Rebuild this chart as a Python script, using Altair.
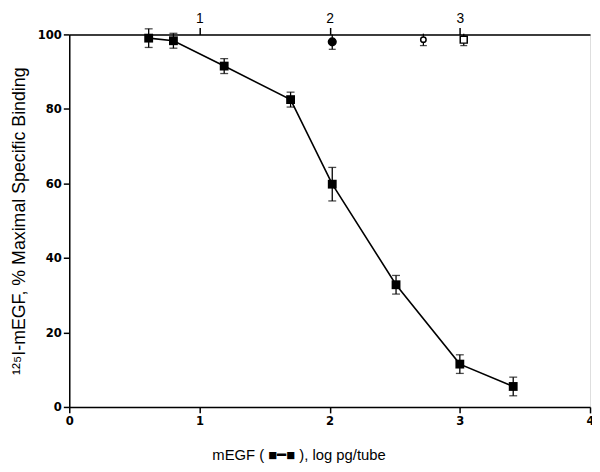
import altair as alt
import pandas as pd

# main series: mEGF (filled squares)
x_main = [0.61, 0.80, 1.19, 1.70, 2.02, 2.51, 3.00, 3.41]
y_main = [99.0, 98.3, 91.5, 82.5, 59.8, 32.8, 11.5, 5.5]
err_main = [2.5, 2.0, 2.0, 2.0, 4.5, 2.5, 2.5, 2.5]

# other substances near the top
x_other = [2.02, 2.72, 3.03]
y_other = [98.0, 98.6, 98.6]
err_other = [2.0, 1.6, 1.6]
shape_other = ["circle", "circle", "square"]
fill_other = ["black", "white", "white"]
size_other = [60, 30, 50]

main = pd.DataFrame({"x": x_main, "y": y_main,
                     "lo": [a - b for a, b in zip(y_main, err_main)],
                     "hi": [a + b for a, b in zip(y_main, err_main)]})
other = pd.DataFrame({"x": x_other, "y": y_other,
                      "lo": [a - b for a, b in zip(y_other, err_other)],
                      "hi": [a + b for a, b in zip(y_other, err_other)],
                      "shape": shape_other, "fill": fill_other, "size": size_other})

lab_font = "DejaVu Sans Condensed, Liberation Sans"
title_font = "Liberation Sans"

xs = alt.Scale(domain=[0, 4], nice=False)
ys = alt.Scale(domain=[0, 100], nice=False)

xaxis = alt.Axis(
    orient="bottom", values=[0, 1, 2, 3, 4], format="d",
    title="mEGF ( \u25a0\u2501\u25a0 ), log pg/tube",
    grid=False, domainColor="black", domainWidth=1.5, tickColor="black",
    tickWidth=1.5, tickSize=6, labelFont=lab_font, labelFontWeight="bold",
    labelFontSize=13, labelColor="black", labelPadding=2,
    titleFont=title_font, titleFontSize=15, titleFontWeight="normal",
    titleColor="black", titlePadding=20, titleX=232, labelFlush=False)
yaxis = alt.Axis(
    values=[0, 20, 40, 60, 80, 100], format="d",
    title="\u00b9\u00b2\u2075I-mEGF, % Maximal Specific Binding",
    grid=False, domainColor="black", domainWidth=1.5, tickColor="black",
    tickWidth=1.5, tickSize=6, labelFont=lab_font, labelFontWeight="bold",
    labelFontSize=13, labelColor="black", labelPadding=2,
    titleFont=title_font, titleFontSize=18, titleFontWeight="normal",
    titleColor="black", titlePadding=9)


def X(f):
    return alt.X(f, scale=xs, axis=None)


def Y(f):
    return alt.Y(f, scale=ys, axis=yaxis)


line = alt.Chart(main).mark_line(color="black", strokeWidth=1.6).encode(
    x=alt.X("x:Q", scale=xs, axis=xaxis), y=Y("y:Q"))
rules = alt.Chart(main).mark_rule(color="black", strokeWidth=1.3).encode(
    x=X("x:Q"), y=Y("lo:Q"), y2="hi:Q")
cap_lo = alt.Chart(main).mark_tick(color="black", orient="horizontal", size=8,
                                   thickness=1.3).encode(x=X("x:Q"), y=Y("lo:Q"))
cap_hi = alt.Chart(main).mark_tick(color="black", orient="horizontal", size=8,
                                   thickness=1.3).encode(x=X("x:Q"), y=Y("hi:Q"))
pts = alt.Chart(main).mark_point(shape="square", filled=True, color="black",
                                 size=80, opacity=1).encode(x=X("x:Q"), y=Y("y:Q"))

orules = alt.Chart(other).mark_rule(color="black", strokeWidth=1.3).encode(
    x=X("x:Q"), y=Y("lo:Q"), y2="hi:Q")
ocap = alt.Chart(other).mark_tick(color="black", orient="horizontal", size=7,
                                  thickness=1.3).encode(x=X("x:Q"), y=Y("lo:Q"))
opts = alt.Chart(other).mark_point(stroke="black", strokeWidth=1.5, opacity=1).encode(
    x=X("x:Q"), y=Y("y:Q"),
    shape=alt.Shape("shape:N", scale=None),
    fill=alt.Fill("fill:N", scale=None),
    size=alt.Size("size:Q", scale=None))

# top axis
top = alt.Chart(main).mark_point(opacity=0).encode(
    x=alt.X("x:Q", scale=xs, axis=alt.Axis(
        orient="top", values=[1, 2, 3], format="d", title=None, grid=False,
        domainColor="black", domainWidth=1.5, tickColor="black", tickWidth=1.5,
        tickSize=7, labelFont=title_font, labelFontSize=14, labelColor="black",
        labelPadding=2)),
    y=Y("y:Q"))

chart = alt.layer(line, rules, cap_lo, cap_hi, pts, orules, ocap, opts, top).resolve_axis(
    x="independent").properties(
    width=527, height=377,
    autosize=alt.AutoSizeParams(type="none"),
    padding={"left": 62, "top": 24, "right": 2, "bottom": 55},
).configure_view(stroke="black", strokeWidth=1.5).configure(background="white")

chart.save("out.html", embed_options={"renderer": "svg", "actions": False})
